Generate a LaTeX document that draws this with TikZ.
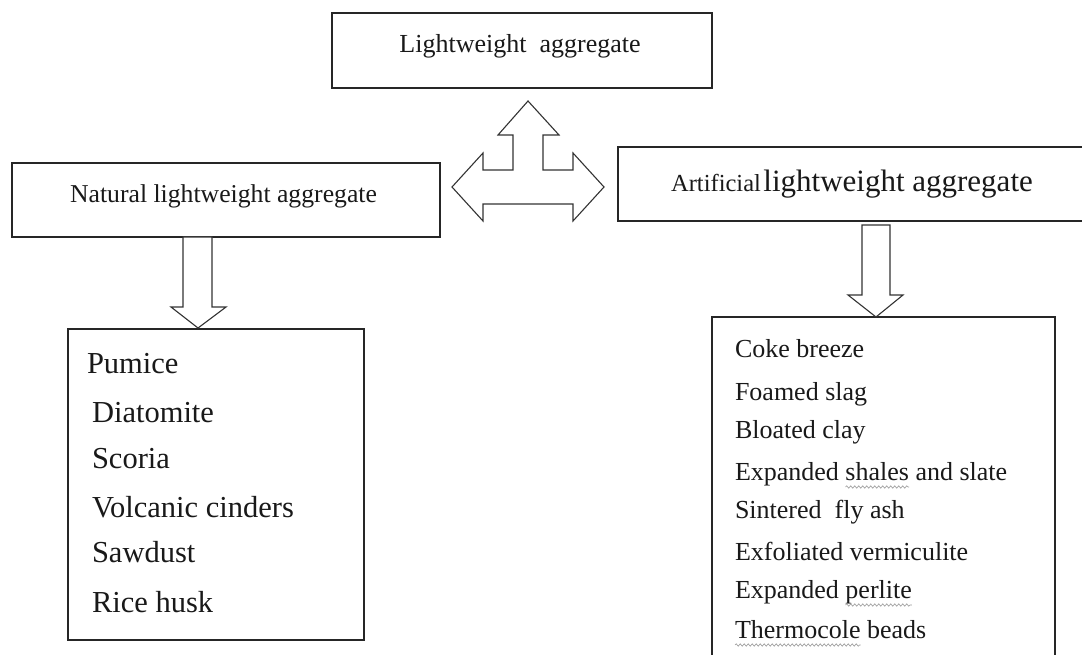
\documentclass[tikz,border=0pt]{standalone}
\usepackage{fontspec}
\setmainfont{Liberation Serif}
\usetikzlibrary{decorations.pathmorphing,calc}
\tikzset{
  box/.style={draw=black!85, line width=1.7pt, rectangle, inner sep=0pt, outer sep=0pt, anchor=north west},
  blockarrow/.style={draw=black!80, line width=1.1pt, fill=white, line join=miter},
  lbl/.style={inner sep=0pt, outer sep=0pt, text=black!90},
  itemR/.style={lbl, anchor=base west, font=\fontsize{26}{26}\selectfont},
  itemL/.style={lbl, anchor=base west, font=\fontsize{30.5}{30.5}\selectfont},
  squiggle/.style={draw=gray!80, line width=0.6pt, decorate, decoration={snake, amplitude=1.2pt, segment length=4pt}}
}
\begin{document}
\begin{tikzpicture}[x=1pt,y=1pt]
\useasboundingbox (0,0) rectangle (1082,-655);
\clip (0,0) rectangle (1082,-655);
\fill[white] (0,0) rectangle (1082,-655);

% boxes
\node[box, minimum width=380pt, minimum height=75pt] (top) at (332,-13) {};
\node[box, minimum width=428pt, minimum height=74pt] (nat) at (12,-163) {};
\node[box, minimum width=472pt, minimum height=74pt] (art) at (618,-147) {};
\node[box, minimum width=296pt, minimum height=311pt] (natlist) at (68,-329) {};
\node[box, minimum width=343pt, minimum height=365pt] (artlist) at (712,-317) {};

% box titles
\node[lbl, anchor=base, font=\fontsize{26}{26}\selectfont] (toptxt) at (520,-53) {Lightweight\ \ aggregate};
\node[lbl, anchor=base, font=\fontsize{25.7}{25.7}\selectfont] (nattxt) at (223.5,-203) {Natural lightweight aggregate};
\node[lbl, anchor=base] (arttxt) at (852,-192) {{\fontsize{24.5}{24.5}\selectfont Artificial} {\fontsize{31}{31}\selectfont lightweight aggregate}};

% three-way block arrow
\draw[blockarrow] (528,-101) -- (559,-135) -- (543,-135) -- (543,-170) -- (573,-170) -- (573,-153)
  -- (604,-187) -- (573,-221) -- (573,-204) -- (483,-204) -- (483,-221) -- (452,-187)
  -- (483,-153) -- (483,-170) -- (513,-170) -- (513,-135) -- (498,-135) -- cycle;

% down block arrows
\draw[blockarrow] (183,-237) -- (183,-307) -- (171,-307) -- (198,-328) -- (226,-307) -- (212,-307) -- (212,-237) -- cycle;
\draw[blockarrow] (862,-225) -- (862,-295) -- (848,-295) -- (876,-317) -- (903,-295) -- (890,-295) -- (890,-225) -- cycle;

% natural list
\node[itemL] (n1) at (87,-373) {Pumice};
\node[itemL] (n2) at (92,-422) {Diatomite};
\node[itemL] (n3) at (92,-468) {Scoria};
\node[itemL] (n4) at (92,-517) {Volcanic cinders};
\node[itemL] (n5) at (92,-562) {Sawdust};
\node[itemL] (n6) at (92,-612) {Rice husk};

% artificial list
\node[itemR] (a1) at (735,-357) {Coke breeze};
\node[itemR] (a2) at (735,-400) {Foamed slag};
\node[itemR] (a3) at (735,-438) {Bloated clay};
\node[itemR] (a4) at (735,-480) {Expanded};
\node[itemR] (a4w) at ($(a4.base east)+(6.5,0)$) {shales};
\node[itemR] (a4r) at ($(a4w.base east)+(6.5,0)$) {and slate};
\node[itemR] (a5) at (735,-518) {Sintered\ \ fly ash};
\node[itemR] (a6) at (735,-560) {Exfoliated vermiculite};
\node[itemR] (a7) at (735,-598) {Expanded};
\node[itemR] (a7w) at ($(a7.base east)+(6.5,0)$) {perlite};
\node[itemR] (a8w) at (735,-638) {Thermocole};
\node[itemR] (a8r) at ($(a8w.base east)+(6.5,0)$) {beads};

% spelling squiggles
\draw[squiggle] ($(a4w.base west)+(0,-7)$) -- ($(a4w.base east)+(0,-7)$);
\draw[squiggle] ($(a7w.base west)+(0,-7)$) -- ($(a7w.base east)+(0,-7)$);
\draw[squiggle] ($(a8w.base west)+(0,-7)$) -- ($(a8w.base east)+(0,-7)$);
\end{tikzpicture}
\end{document}
